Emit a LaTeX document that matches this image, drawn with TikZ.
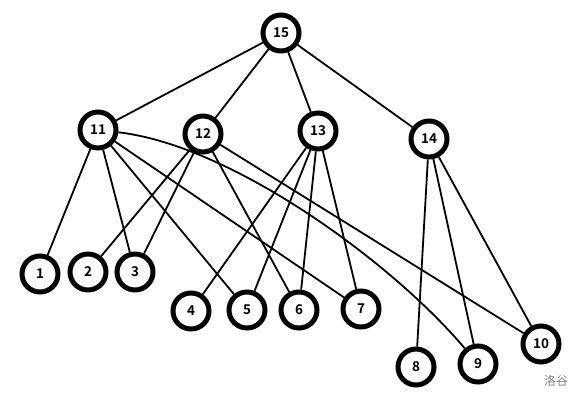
\documentclass[tikz,border=0pt]{standalone}
\usepackage{fontspec}
\usetikzlibrary{backgrounds}
\setmainfont{Noto Sans}
\newfontfamily\cjk{Noto Sans CJK SC}
\newfontfamily\numfont{Noto Sans CJK SC Bold}
\begin{document}
\begin{tikzpicture}[x=1pt,y=-1pt,
  vtx/.style={circle,draw=black,line width=5pt,fill=white,minimum size=36pt,inner sep=0pt,font=\numfont\fontsize{13.5}{13.5}\selectfont},
  edge/.style={line width=1.8pt,black}]
\useasboundingbox (0,0) rectangle (583,401);
\node[vtx] (n15) at (281,33) {15};
\node[vtx] (n11) at (98,130) {11};
\node[vtx] (n12) at (203,134) {12};
\node[vtx] (n13) at (318,131) {13};
\node[vtx] (n14) at (429,139) {14};
\node[vtx] (n1) at (40,274) {1};
\node[vtx] (n2) at (88,272) {2};
\node[vtx] (n3) at (135,272) {3};
\node[vtx] (n4) at (191,311) {4};
\node[vtx] (n5) at (247,310) {5};
\node[vtx] (n6) at (299,310) {6};
\node[vtx] (n7) at (361,309) {7};
\node[vtx] (n8) at (416,367) {8};
\node[vtx] (n9) at (478,364) {9};
\node[vtx] (n10) at (541,344) {10};
\node[text=gray, font=\cjk\fontsize{12}{12}\selectfont] (logo) at (556,381) {洛谷};
\begin{scope}[on background layer]
\foreach \a/\b in {15/11,15/12,15/13,15/14,11/1,11/3,11/5,11/7,12/2,12/3,12/6,12/10,13/4,13/5,13/6,13/7,14/8,14/9,14/10}
  \draw[edge] (n\a) -- (n\b);
\draw[edge] (n11) .. controls (230,145) and (390,260) .. (n9);
\end{scope}
\end{tikzpicture}
\end{document}
